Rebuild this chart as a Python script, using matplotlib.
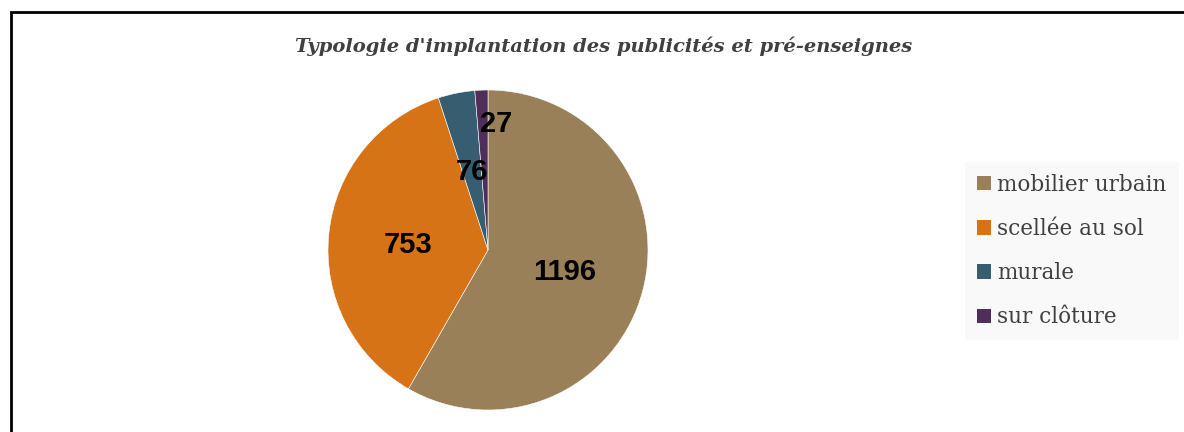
import numpy as np
import matplotlib.pyplot as plt
from matplotlib.patches import Rectangle

# data
categories = ['mobilier urbain', 'scellée au sol', 'murale', 'sur clôture']
counts = [1196, 753, 76, 27]
colors = ['#998058', '#d67317', '#365e70', '#4f2e5a']
title = "Typologie d'implantation des publicités et pré-enseignes"

W, H = 1184, 432
fig = plt.figure(figsize=(W / 100, H / 100), dpi=100)

# outer frame of the chart (cropped on the right and bottom)
fig.patches.append(Rectangle((10.5 / W, -0.1), 2.0, 1 - 12 / H + 0.1,
                             transform=fig.transFigure, fill=False,
                             edgecolor='black', linewidth=2))

fig.text(604 / W, 1 - 46 / H, title, ha='center', va='center',
         family='DejaVu Serif', style='italic', weight='bold',
         fontsize=14, color='#404040')

# pie, centre (488, 250), radius 160 px
ax = fig.add_axes([328 / W, 1 - 410 / H, 320 / W, 320 / H])
wedges, _ = ax.pie(counts, colors=colors, startangle=90, counterclock=False,
                   wedgeprops=dict(edgecolor='white', linewidth=0.4))
ax.set_xlim(-1, 1)
ax.set_ylim(-1, 1)
ax.set_aspect('equal')
ax.axis('off')

# value labels
radii = [0.5, 0.5, 0.5, 0.79]
shift = [-1, 2, 0, -6]
for w, n, r, s in zip(wedges, counts, radii, shift):
    ang = np.deg2rad((w.theta1 + w.theta2) / 2 + s)
    ax.text(r * np.cos(ang), r * np.sin(ang), str(n), ha='center', va='center',
            family='Liberation Sans', weight='bold', fontsize=21, color='black')

handles = [Rectangle((0, 0), 1, 1, facecolor=c, edgecolor='none') for c in colors]
leg = fig.legend(handles, categories, loc='center left',
                 bbox_to_anchor=(965 / W, 1 - 251 / H),
                 prop=dict(family='DejaVu Serif', size=15.5),
                 frameon=True, fancybox=False, borderpad=0.55,
                 labelspacing=1.03, handlelength=0.65, handleheight=0.65,
                 handletextpad=0.3, borderaxespad=0)
leg.get_frame().set_facecolor('#f8f8f8')
leg.get_frame().set_edgecolor('none')
for t in leg.get_texts():
    t.set_color('#404040')

fig.savefig('out.png', dpi=100, facecolor='white')
